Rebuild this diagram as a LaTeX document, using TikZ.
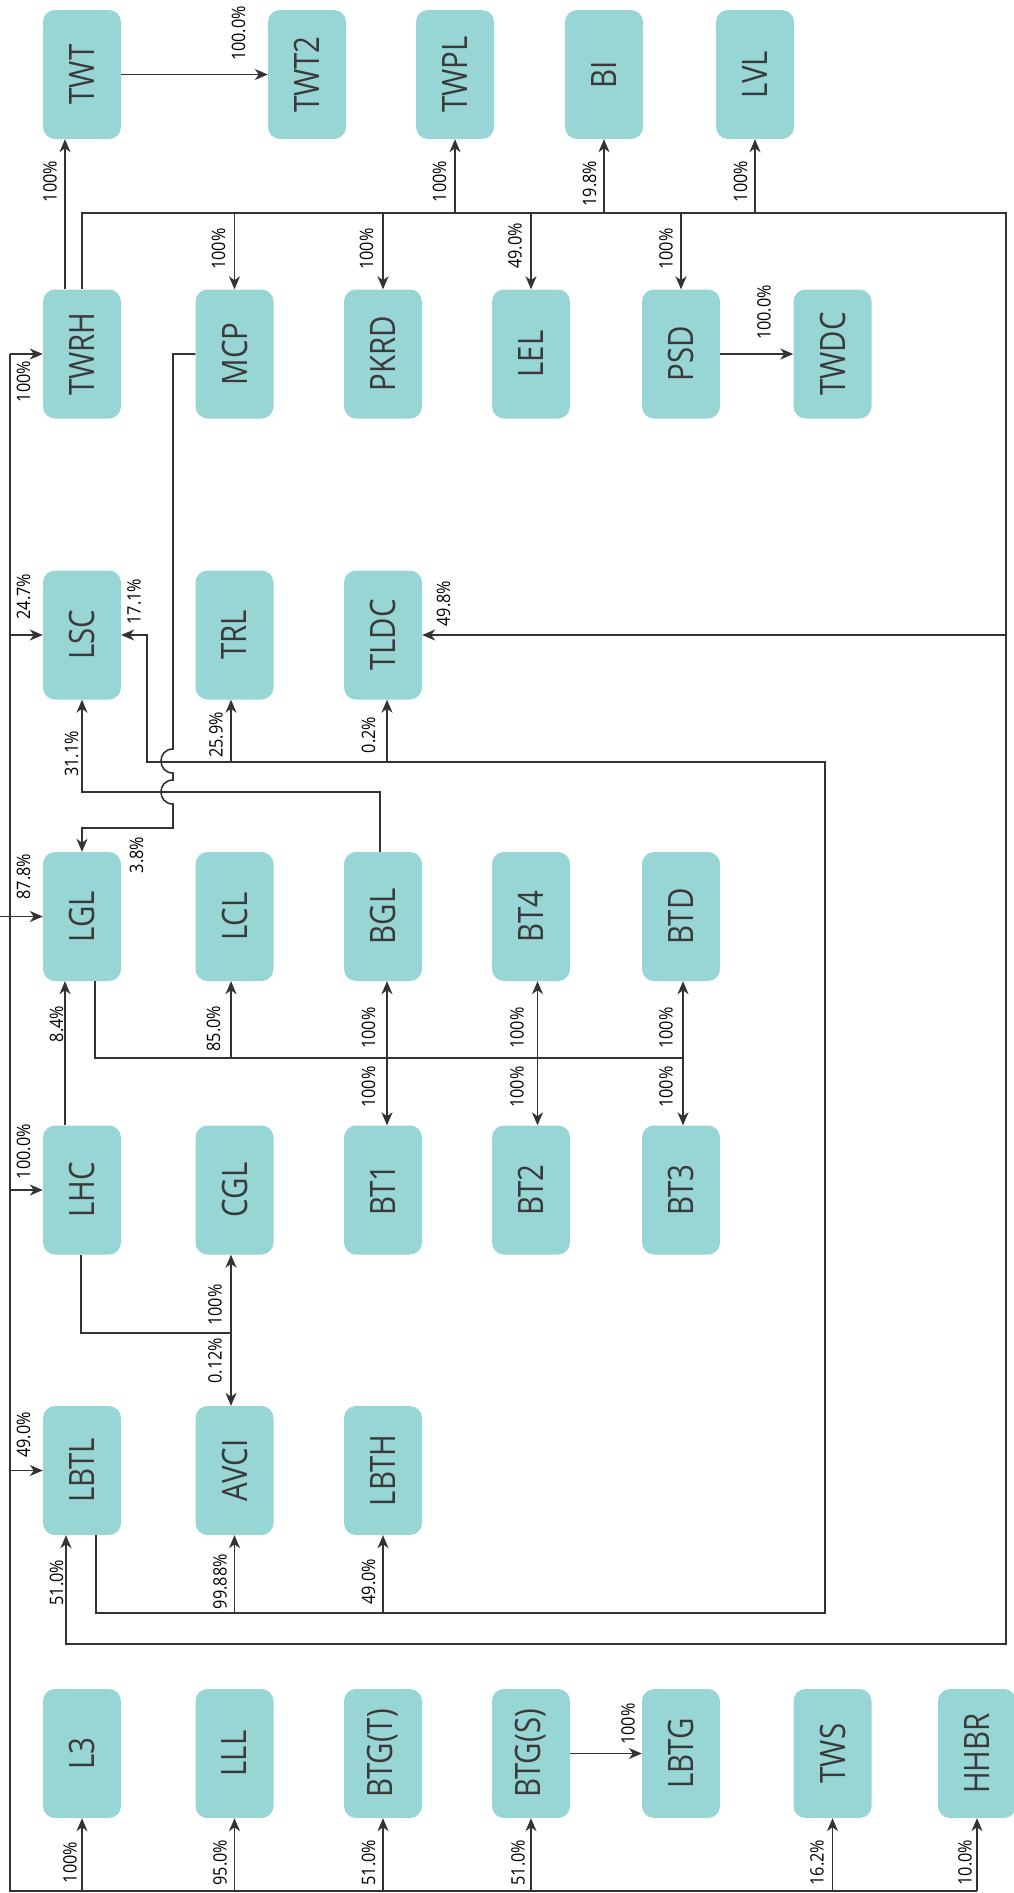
\documentclass[tikz,border=0pt]{standalone}
\usepackage{fontspec}
\setmainfont{Open Sans}
\usetikzlibrary{arrows.meta}
\definecolor{nodefill}{HTML}{98D5D5}
\definecolor{nodetext}{HTML}{3A3A3A}
\definecolor{linec}{HTML}{333333}
\newcommand{\ntxt}[1]{\rotatebox{90}{\scalebox{0.84}[1]{#1}}}
\newcommand{\ltxt}[1]{\rotatebox{90}{\scalebox{0.88}[1]{#1}}}
\begin{document}
\begin{tikzpicture}[x=1pt,y=-1pt,
  box/.style={rectangle, rounded corners=12pt, fill=nodefill, minimum width=78pt, minimum height=129pt, inner sep=0pt, text=nodetext, font=\fontsize{35}{40}\selectfont},
  ln/.style={draw=linec, line width=1.6pt},
  arr/.style={ln, -{Stealth[length=13pt,width=11pt,inset=4pt]}},
  darr/.style={ln, {Stealth[length=13pt,width=11pt,inset=4pt]}-{Stealth[length=13pt,width=11pt,inset=4pt]}},
  lbl/.style={inner sep=0pt, font=\fontsize{18.5}{20}\selectfont, text=black}
]
\useasboundingbox (0,0) rectangle (1014,1893);
% row 1
\node[box] (TWT)  at (82,74.5)    {\ntxt{TWT}};
\node[box] (TWT2) at (307,74.5)   {\ntxt{TWT2}};
\node[box] (TWPL) at (455,74.5)   {\ntxt{TWPL}};
\node[box] (BI)   at (604,74.5)   {\ntxt{BI}};
\node[box] (LVL)  at (755,74.5)   {\ntxt{LVL}};
% row 2
\node[box] (TWRH) at (82,354)    {\ntxt{TWRH}};
\node[box] (MCP)  at (234.5,354) {\ntxt{MCP}};
\node[box] (PKRD) at (383,354)   {\ntxt{PKRD}};
\node[box] (LEL)  at (531,354)   {\ntxt{LEL}};
\node[box] (PSD)  at (681,354)   {\ntxt{PSD}};
\node[box] (TWDC) at (832.5,354) {\ntxt{TWDC}};
% row 3
\node[box] (LSC)  at (82,635)    {\ntxt{LSC}};
\node[box] (TRL)  at (234.5,635) {\ntxt{TRL}};
\node[box] (TLDC) at (383,635)   {\ntxt{TLDC}};
% row 4
\node[box] (LGL)  at (82,916.5)    {\ntxt{LGL}};
\node[box] (LCL)  at (234.5,916.5) {\ntxt{LCL}};
\node[box] (BGL)  at (383,916.5)   {\ntxt{BGL}};
\node[box] (BT4)  at (531,916.5)   {\ntxt{BT4}};
\node[box] (BTD)  at (681,916.5)   {\ntxt{BTD}};
% row 5
\node[box] (LHC)  at (82,1190)    {\ntxt{LHC}};
\node[box] (CGL)  at (234.5,1190) {\ntxt{CGL}};
\node[box] (BT1)  at (383,1190)   {\ntxt{BT1}};
\node[box] (BT2)  at (531,1190)   {\ntxt{BT2}};
\node[box] (BT3)  at (681,1190)   {\ntxt{BT3}};
% row 6
\node[box] (LBTL) at (82,1470.5)    {\ntxt{LBTL}};
\node[box] (AVCI) at (234.5,1470.5) {\ntxt{AVCI}};
\node[box] (LBTH) at (383,1470.5)   {\ntxt{LBTH}};
% row 7
\node[box] (L3)   at (82,1753.5)    {\ntxt{L3}};
\node[box] (LLL)  at (234.5,1753.5) {\ntxt{LLL}};
\node[box] (BTGT) at (383,1753.5)   {\ntxt{BTG(T)}};
\node[box] (BTGS) at (531,1753.5)   {\ntxt{BTG(S)}};
\node[box] (LBTG) at (681,1753.5)   {\ntxt{LBTG}};
\node[box] (TWS)  at (832.5,1753.5) {\ntxt{TWS}};
\node[box] (HHBR) at (977,1753.5)   {\ntxt{HHBR}};

% coordinates
\coordinate (srcL) at (0,916.5);
\coordinate (bA) at (82,213);
\coordinate (bB) at (1006,213);
\coordinate (bC) at (1006,1644);
\coordinate (bD) at (66,1644);
\coordinate (cA) at (96,1613);
\coordinate (cB) at (825,1613);
\coordinate (cC) at (825,762);
\coordinate (cD) at (147,762);

% left / bottom trunk
\draw[ln] (10,354) -- (10,1891) -- (HHBR.south |- 0,1891);
\draw[arr] (10,354) -- (TWRH.west);
\draw[arr] (LSC.west -| 10,0) -- (LSC.west);
\draw[arr] (LHC.west -| 10,0) -- (LHC.west);
\draw[arr] (LBTL.west -| 10,0) -- (LBTL.west);
\draw[arr] (srcL) -- (LGL.west);
\draw[arr] (L3.south |- 0,1891) -- (L3.south);
\draw[arr] (LLL.south |- 0,1891) -- (LLL.south);
\draw[arr] (BTGT.south |- 0,1891) -- (BTGT.south);
\draw[arr] (BTGS.south |- 0,1891) -- (BTGS.south);
\draw[arr] (TWS.south |- 0,1891) -- (TWS.south);
\draw[arr] (HHBR.south |- 0,1891) -- (HHBR.south);

% TWRH network
\draw[arr] (TWRH.north -| 65,0) -- (TWT.south -| 65,0);
\draw[arr] (TWT.east) -- (TWT2.west);
\draw[arr] (TWRH.north) -- (bA) -- (bB) -- (bC) -- (bD) -- (LBTL.south -| bD);
\draw[arr] (MCP.north |- bA) -- (MCP.north);
\draw[arr] (PKRD.north |- bA) -- (PKRD.north);
\draw[arr] (LEL.north |- bA) -- (LEL.north);
\draw[arr] (PSD.north |- bA) -- (PSD.north);
\draw[arr] (TWPL.south |- bA) -- (TWPL.south);
\draw[arr] (BI.south |- bA) -- (BI.south);
\draw[arr] (LVL.south |- bA) -- (LVL.south);
\draw[arr] (TLDC.east -| bB) -- (TLDC.east);
\draw[arr] (PSD.east) -- (TWDC.west);

% MCP -> LGL with line hops
\draw[arr] (MCP.west) -- (173,354) -- (173,749)
  .. controls (157,749) and (157,773) .. (173,773) -- (173,780)
  .. controls (157,780) and (157,804) .. (173,804) -- (173,828) -- (82,828) -- (LGL.north);

% LBTL network
\draw[arr] (LBTL.south -| 96,0) -- (cA) -- (cB) -- (cC) -- (cD) -- (LSC.east -| cD) -- (LSC.east);
\draw[arr] (AVCI.south |- cA) -- (AVCI.south);
\draw[arr] (LBTH.south |- cA) -- (LBTH.south);
\draw[arr] (231,762) -- (TRL.south -| 231,0);
\draw[arr] (387,762) -- (TLDC.south -| 387,0);

% BGL -> LSC
\draw[arr] (BGL.north -| 380,0) -- (380,792) -- (82,792) -- (LSC.south);

% LGL network
\draw[ln] (LGL.south -| 95,0) -- (95,1058) -- (683,1058);
\draw[arr] (231,1058) -- (LCL.south -| 231,0);
\draw[darr] (BGL.south -| 387,0) -- (BT1.north -| 387,0);
\draw[darr] (BT4.south -| 537.5,0) -- (BT2.north -| 537.5,0);
\draw[darr] (BTD.south -| 683,0) -- (BT3.north -| 683,0);

% LHC
\draw[arr] (LHC.north -| 65,0) -- (LGL.south -| 65,0);
\draw[ln] (LHC.south -| 81,0) -- (81,1333) -- (231,1333);
\draw[arr] (231,1333) -- (CGL.south -| 231,0);
\draw[arr] (231,1333) -- (AVCI.north -| 231,0);

% BTG(S) -> LBTG
\draw[arr] (BTGS.east) -- (LBTG.west);

% labels
\node[lbl] (l1)  at (50,181.5)    {\ltxt{100\%}};
\node[lbl] (l2)  at (238.5,33.5)  {\ltxt{100.0\%}};
\node[lbl] (l3)  at (439.5,181.5) {\ltxt{100\%}};
\node[lbl] (l4)  at (589.5,183.5) {\ltxt{19.8\%}};
\node[lbl] (l5)  at (740.5,181.5) {\ltxt{100\%}};
\node[lbl] (l6)  at (218.5,249)   {\ltxt{100\%}};
\node[lbl] (l7)  at (366.5,249)   {\ltxt{100\%}};
\node[lbl] (l8)  at (515,246)     {\ltxt{49.0\%}};
\node[lbl] (l9)  at (666,249)     {\ltxt{100\%}};
\node[lbl] (l10) at (764,312.5)   {\ltxt{100.0\%}};
\node[lbl] (l11) at (23.5,381.5)  {\ltxt{100\%}};
\node[lbl] (l12) at (23.5,596.5)  {\ltxt{24.7\%}};
\node[lbl] (l13) at (134,601.5)   {\ltxt{17.1\%}};
\node[lbl] (l14) at (443.5,603.5) {\ltxt{49.8\%}};
\node[lbl] (l15) at (71.5,754)    {\ltxt{31.1\%}};
\node[lbl] (l16) at (216,735)     {\ltxt{25.9\%}};
\node[lbl] (l17) at (368.5,735)   {\ltxt{0.2\%}};
\node[lbl] (l18) at (23.5,876.5)  {\ltxt{87.8\%}};
\node[lbl] (l19) at (136.5,855)   {\ltxt{3.8\%}};
\node[lbl] (l20) at (213.5,1028.5){\ltxt{85.0\%}};
\node[lbl] (l21) at (56.5,1024)   {\ltxt{8.4\%}};
\node[lbl] (l22) at (368.5,1028)  {\ltxt{100\%}};
\node[lbl] (l23) at (368.5,1087)  {\ltxt{100\%}};
\node[lbl] (l24) at (517,1028)    {\ltxt{100\%}};
\node[lbl] (l25) at (517,1087)    {\ltxt{100\%}};
\node[lbl] (l26) at (666,1028)    {\ltxt{100\%}};
\node[lbl] (l27) at (666,1087)    {\ltxt{100\%}};
\node[lbl] (l28) at (23.5,1151.5) {\ltxt{100.0\%}};
\node[lbl] (l29) at (215,1305)    {\ltxt{100\%}};
\node[lbl] (l30) at (215,1360.5)  {\ltxt{0.12\%}};
\node[lbl] (l31) at (23.5,1435)   {\ltxt{49.0\%}};
\node[lbl] (l32) at (56.5,1582.5) {\ltxt{51.0\%}};
\node[lbl] (l33) at (220,1581.5)  {\ltxt{99.88\%}};
\node[lbl] (l34) at (368.5,1581.5){\ltxt{49.0\%}};
\node[lbl] (l35) at (628,1724)    {\ltxt{100\%}};
\node[lbl] (l36) at (70,1862.5)   {\ltxt{100\%}};
\node[lbl] (l37) at (220,1862.5)  {\ltxt{95.0\%}};
\node[lbl] (l38) at (368.5,1862.5){\ltxt{51.0\%}};
\node[lbl] (l39) at (518,1862.5)  {\ltxt{51.0\%}};
\node[lbl] (l40) at (817,1862.5)  {\ltxt{16.2\%}};
\node[lbl] (l41) at (965,1862.5)  {\ltxt{10.0\%}};
\end{tikzpicture}
\end{document}
